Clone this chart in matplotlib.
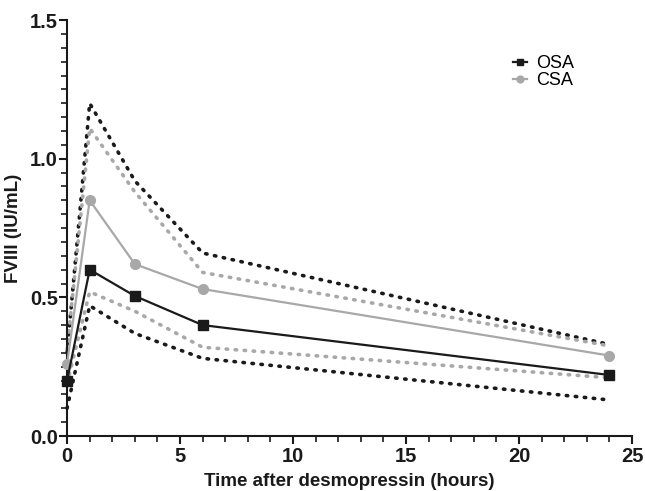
import matplotlib
matplotlib.use('Agg')
import matplotlib.pyplot as plt
from matplotlib.ticker import MultipleLocator

plt.rcParams['font.family'] = ['Liberation Sans', 'DejaVu Sans']

hours = [0, 1, 3, 6, 24]

osa_mean = [0.20, 0.60, 0.505, 0.40, 0.22]
osa_upper = [0.30, 1.20, 0.92, 0.66, 0.33]
osa_lower = [0.10, 0.47, 0.37, 0.28, 0.13]

csa_mean = [0.26, 0.85, 0.62, 0.53, 0.29]
csa_upper = [0.31, 1.11, 0.88, 0.59, 0.325]
csa_lower = [0.19, 0.52, 0.45, 0.32, 0.21]

black = '#1a1a1a'
grey = '#a8a8a8'
dots = (0, (0.4, 2.1))

fig = plt.figure(figsize=(6.45, 4.91), dpi=100)
ax = fig.add_axes([0.104, 0.112, 0.876, 0.847])

# confidence envelopes
ax.plot(hours, osa_upper, color=black, linestyle=dots, lw=2.6,
        dash_capstyle='round', clip_on=False)
ax.plot(hours, osa_lower, color=black, linestyle=dots, lw=2.6,
        dash_capstyle='round', clip_on=False)
ax.plot(hours, csa_upper, color=grey, linestyle=dots, lw=2.6,
        dash_capstyle='round', clip_on=False)
ax.plot(hours, csa_lower, color=grey, linestyle=dots, lw=2.6,
        dash_capstyle='round', clip_on=False)

# means
ax.plot(hours, osa_mean, color=black, lw=1.6, marker='s', markersize=7,
        label='OSA', clip_on=False, zorder=4)
ax.plot(hours, csa_mean, color=grey, lw=1.6, marker='o', markersize=7,
        label='CSA', clip_on=False, zorder=3)

ax.set_xlim(0, 25)
ax.set_ylim(0, 1.5)
ax.xaxis.set_major_locator(MultipleLocator(5))
ax.xaxis.set_minor_locator(MultipleLocator(1))
ax.yaxis.set_major_locator(MultipleLocator(0.5))
ax.yaxis.set_minor_locator(MultipleLocator(0.05))
ax.yaxis.set_major_formatter(matplotlib.ticker.FormatStrFormatter('%.1f'))

for s in ['top', 'right']:
    ax.spines[s].set_visible(False)
for s in ['left', 'bottom']:
    ax.spines[s].set_linewidth(1.5)
    ax.spines[s].set_color(black)

ax.tick_params(which='major', length=6, width=1.5, color=black, labelsize=14.5, pad=2)
ax.tick_params(axis='y', which='major', pad=0.5)
ax.tick_params(which='minor', length=4, width=1.2, color=black)
for lab in ax.get_xticklabels() + ax.get_yticklabels():
    lab.set_fontweight('bold')
    lab.set_color(black)

ax.set_xlabel('Time after desmopressin (hours)', fontsize=13.5, fontweight='bold',
              color=black, labelpad=5)
ax.set_ylabel('FVIII (IU/mL)', fontsize=13.5, fontweight='bold', color=black, labelpad=6)

ax.legend(loc='upper left', bbox_to_anchor=(0.76, 0.955), frameon=False,
          fontsize=13, handlelength=0.8, handletextpad=0.5, labelspacing=0.0,
          markerscale=0.7)

fig.savefig('out.png', dpi=100)
